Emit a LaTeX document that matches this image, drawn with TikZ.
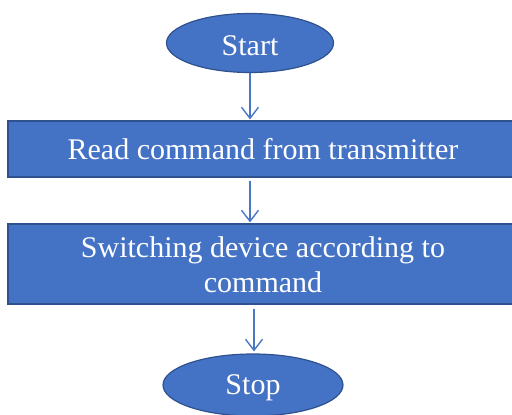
\documentclass[tikz,border=0pt]{standalone}
\usepackage{fontspec}
\setmainfont{Liberation Serif}
\usetikzlibrary{shapes.geometric,arrows.meta}
\definecolor{fillblue}{HTML}{4472C4}
\definecolor{edgeblue}{HTML}{2F528F}
\definecolor{arrowblue}{HTML}{4A76C6}
\newcommand{\lowertext}[2]{\raisebox{-#1}[\height][\depth]{#2}}
\tikzset{
  term/.style={ellipse, draw=edgeblue, fill=fillblue, line width=1.2pt, text=white, inner sep=0pt, font=\fontsize{30}{33}\selectfont},
  proc/.style={rectangle, draw=edgeblue, fill=fillblue, line width=1.2pt, text=white, inner sep=0pt, align=center, font=\fontsize{30}{35}\selectfont},
  flow/.style={draw=arrowblue, line width=1.4pt, -{Straight Barb[length=11pt,width=17pt,line width=1.4pt]}}
}
\begin{document}
\begin{tikzpicture}[x=1pt,y=-1pt]
\useasboundingbox (0,0) rectangle (512,415);
\node[term, minimum width=167pt, minimum height=59pt] (start) at (250,43) {\lowertext{3pt}{Start}};
\node[proc, minimum width=510pt, minimum height=56pt] (b1) at (263,149) {Read command from transmitter};
\node[proc, minimum width=510pt, minimum height=80pt] (b2) at (263,264) {\lowertext{4pt}{\begin{tabular}{@{}c@{}}Switching device according to\\command\end{tabular}}};
\node[term, minimum width=180pt, minimum height=62pt] (stop) at (253,385) {\lowertext{3pt}{Stop}};
\draw[flow, shorten >=1pt] (start.south) -- (start.south |- b1.north);
\draw[flow, shorten <=3pt, shorten >=1pt] (start.south |- b1.south) -- (start.south |- b2.north);
\draw[flow, shorten <=4pt, shorten >=2pt] ([xshift=1pt]stop.north |- b2.south) -- ([xshift=1pt]stop.north);
\end{tikzpicture}
\end{document}
